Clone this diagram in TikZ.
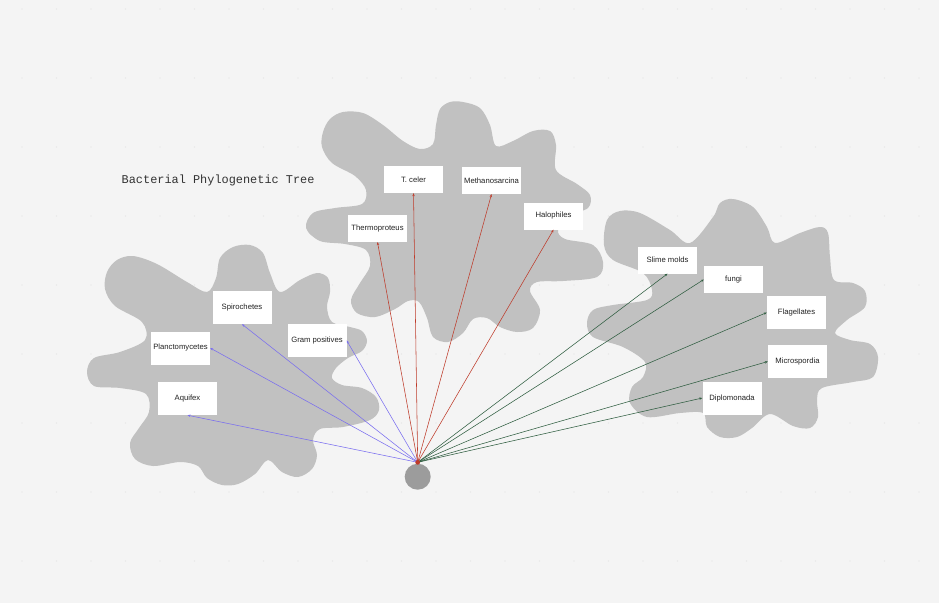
\documentclass[tikz,border=0pt]{standalone}
\usepackage{fontspec}
\usetikzlibrary{arrows.meta}
\newfontfamily\boxfont{Liberation Sans}
\newfontfamily\headfont{Liberation Mono}
\definecolor{bgc}{HTML}{F4F4F4}
\definecolor{dotc}{HTML}{E2E2E2}
\definecolor{blobc}{HTML}{C1C1C1}
\definecolor{rootc}{HTML}{9C9C9C}
\definecolor{bluec}{HTML}{7A6EF0}
\definecolor{redc}{HTML}{BE3B2A}
\definecolor{greenc}{HTML}{2F5D40}
\definecolor{txtc}{HTML}{222222}
\tikzset{
  blob/.style={fill=blobc, draw=none},
  taxon/.style={fill=white, draw=none, minimum width=59pt, minimum height=33pt,
    inner sep=0pt, font=\boxfont\fontsize{7.7}{9}\selectfont, text=txtc},
  taxonlow/.style={taxon, minimum height=27pt},
  link/.style={line width=0.55pt, -{Stealth[length=3pt,width=2.4pt]}},
}
\begin{document}
\begin{tikzpicture}[x=1pt,y=-1pt]
\useasboundingbox (0,0) rectangle (939,603);
\fill[bgc] (0,0) rectangle (939,603);
% faint canvas dots
\foreach \i in {0,...,27} {
  \foreach \j in {0,...,8} {
    \fill[dotc] (22+34.5*\i, 9+69*\j) circle (0.7);
  }
}
% left blob
\fill[blob] plot[smooth cycle, tension=0.55] coordinates {
 (220,258) (233,247) (250,245) (263,253) (270,273) (280,292) (300,280) (317,273)
 (328,278) (330,292) (327,307) (332,322) (350,327) (362,331) (367,341) (362,351)
 (348,358) (336,368) (332,378) (342,385) (362,388) (376,397) (379,410) (370,420)
 (343,427) (320,429) (313,440) (317,455) (312,469) (298,477) (282,472) (268,460)
 (255,474) (238,484) (222,485) (207,478) (198,466) (180,462) (153,466) (135,459)
 (130,443) (139,428) (149,412) (146,394) (120,388) (94,386) (87,372) (94,358)
 (120,352) (145,340) (142,322) (115,306) (105,289) (107,272) (117,260) (133,256)
 (157,264) (187,282) (207,292) (216,278)
};
% centre blob
\fill[blob] plot[smooth cycle, tension=0.55] coordinates {
 (323,132) (330,119) (343,112) (363,113) (383,125) (403,141) (420,149) (433,144)
 (436,125) (440,109) (450,102) (463,102) (480,108) (490,125) (496,146) (513,141)
 (533,131) (550,131) (556,145) (556,170) (577,184) (590,195) (588,208) (568,216)
 (558,230) (565,239) (593,245) (603,262) (597,277) (563,281) (537,282) (530,291)
 (540,310) (533,328) (517,332) (500,327) (487,318) (473,319) (463,333) (448,342)
 (433,337) (427,318) (419,302) (408,301) (395,309) (375,317) (357,313) (351,300)
 (360,283) (370,266) (366,250) (345,244) (320,241) (306,228) (313,213) (335,208)
 (362,204) (366,190) (355,176) (332,163) (322,147)
};
% right blob
\fill[blob] plot[smooth cycle, tension=0.55] coordinates {
 (607,220) (620,211) (640,213) (670,230) (690,243) (713,217) (720,203) (733,199)
 (753,207) (767,227) (775,243) (800,233) (820,227) (828,233) (830,257) (834,280)
 (853,283) (865,291) (865,307) (847,320) (835,333) (850,340) (870,344) (878,357)
 (873,377) (853,382) (822,388) (817,400) (818,417) (810,428) (793,426) (770,414)
 (752,428) (737,437) (720,437) (707,427) (703,413) (680,413) (647,417) (630,403)
 (632,387) (643,377) (645,362) (623,347) (593,337) (587,323) (593,310) (613,305)
 (647,300) (652,290) (643,273) (613,260) (604,245)
};
% title
\node[anchor=west, inner sep=0pt, font=\headfont\fontsize{11.9}{14}\selectfont, text=black!80] (title) at (121.5,180) {Bacterial Phylogenetic Tree};
% boxes: left group
\node[taxon] (spiro) at (242,307.5) {Spirochetes};
\node[taxon] (plancto) at (180.5,348) {Planctomycetes};
\node[taxon] (gram) at (317,340.5) {Gram positives};
\node[taxon] (aquifex) at (187.5,398.5) {Aquifex};
% centre group
\node[taxonlow] (tceler) at (413.5,179.5) {T. celer};
\node[taxonlow] (methano) at (491.5,180.5) {Methanosarcina};
\node[taxonlow] (thermo) at (377.5,228.5) {Thermoproteus};
\node[taxonlow] (halo) at (553.5,216) {Halophiles};
% right group
\node[taxonlow] (slime) at (667.5,260) {Slime molds};
\node[taxonlow] (fungi) at (733.5,279.5) {fungi};
\node[taxon] (flag) at (796.5,312.5) {Flagellates};
\node[taxon] (micro) at (797.5,361.5) {Microspordia};
\node[taxon] (diplo) at (732,398) {Diplomonada};
% root
\node[circle, fill=rootc, minimum size=26pt, inner sep=0pt] (ball) at (417.7,476.7) {};
\coordinate (root) at (417.7,462.3);
% connectors
\draw[link, bluec] (root) -- (spiro.south);
\draw[link, bluec] (root) -- (plancto.east);
\draw[link, bluec] (root) -- (gram.east);
\draw[link, bluec] (root) -- (aquifex.south);
\draw[link, redc] (root) -- (tceler.south);
\draw[link, redc] (root) -- (methano.south);
\draw[link, redc] (root) -- (thermo.south);
\draw[link, redc] (root) -- (halo.south);
\draw[link, greenc] (root) -- (slime.south);
\draw[link, greenc] (root) -- (fungi.west);
\draw[link, greenc] (root) -- (flag.west);
\draw[link, greenc] (root) -- (micro.west);
\draw[link, greenc] (root) -- (diplo.west);
\fill[redc] (root) circle (2.4);
\end{tikzpicture}
\end{document}
